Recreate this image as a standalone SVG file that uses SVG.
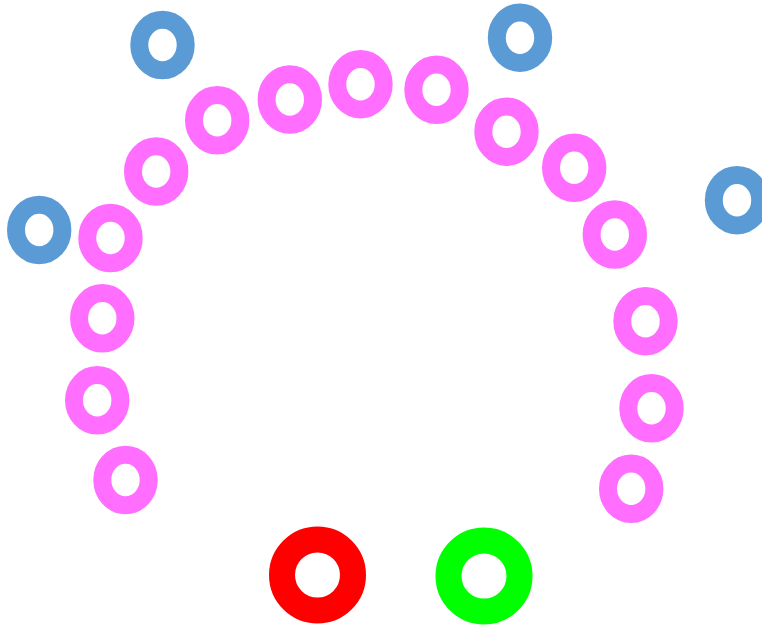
<svg xmlns="http://www.w3.org/2000/svg" width="762" height="626" viewBox="0 0 762 626">
<style>
.p{fill:none;stroke:#FF6EFF;stroke-width:18}
.b{fill:none;stroke:#5B9BD5;stroke-width:18}
.r{fill:none;stroke:#FF0000;stroke-width:26}
.g{fill:none;stroke:#00FF00;stroke-width:26}
</style>
<rect width="762" height="626" fill="#FFFFFF"/>
<g id="connectors"></g>
<g id="blue1"><ellipse class="b" cx="162.5" cy="45" rx="23.2" ry="25.2"/></g>
<g id="blue2"><ellipse class="b" cx="520" cy="37.7" rx="23.2" ry="25.2"/></g>
<g id="blue3"><ellipse class="b" cx="39.2" cy="230" rx="23.2" ry="25.2"/></g>
<g id="blue4"><ellipse class="b" cx="737" cy="200.2" rx="23.2" ry="25.2"/></g>
<g id="pink1"><ellipse class="p" cx="110.5" cy="238" rx="23.2" ry="25.2"/></g>
<g id="pink2"><ellipse class="p" cx="156.2" cy="171.5" rx="23.2" ry="25.2"/></g>
<g id="pink3"><ellipse class="p" cx="217.2" cy="120.3" rx="23.2" ry="25.2"/></g>
<g id="pink4"><ellipse class="p" cx="289.8" cy="99.5" rx="23.2" ry="25.2"/></g>
<g id="pink5"><ellipse class="p" cx="360.5" cy="84.2" rx="23.2" ry="25.2"/></g>
<g id="pink6"><ellipse class="p" cx="436.5" cy="89.8" rx="23.2" ry="25.2"/></g>
<g id="pink7"><ellipse class="p" cx="506.5" cy="131.7" rx="23.2" ry="25.2"/></g>
<g id="pink8"><ellipse class="p" cx="574.2" cy="167.8" rx="23.2" ry="25.2"/></g>
<g id="pink9"><ellipse class="p" cx="614.8" cy="234.5" rx="23.2" ry="25.2"/></g>
<g id="pink10"><ellipse class="p" cx="645.5" cy="321.2" rx="23.2" ry="25.2"/></g>
<g id="pink11"><ellipse class="p" cx="651.5" cy="408.3" rx="23.2" ry="25.2"/></g>
<g id="pink12"><ellipse class="p" cx="631.2" cy="488.8" rx="23.2" ry="25.2"/></g>
<g id="pink13"><ellipse class="p" cx="102.3" cy="318.3" rx="23.2" ry="25.2"/></g>
<g id="pink14"><ellipse class="p" cx="97.2" cy="400.3" rx="23.2" ry="25.2"/></g>
<g id="pink15"><ellipse class="p" cx="125.5" cy="480" rx="23.2" ry="25.2"/></g>
<g id="red"><circle class="r" cx="317.5" cy="575" r="35.5"/></g>
<g id="green"><circle class="g" cx="484" cy="576" r="35.5"/></g>
</svg>
